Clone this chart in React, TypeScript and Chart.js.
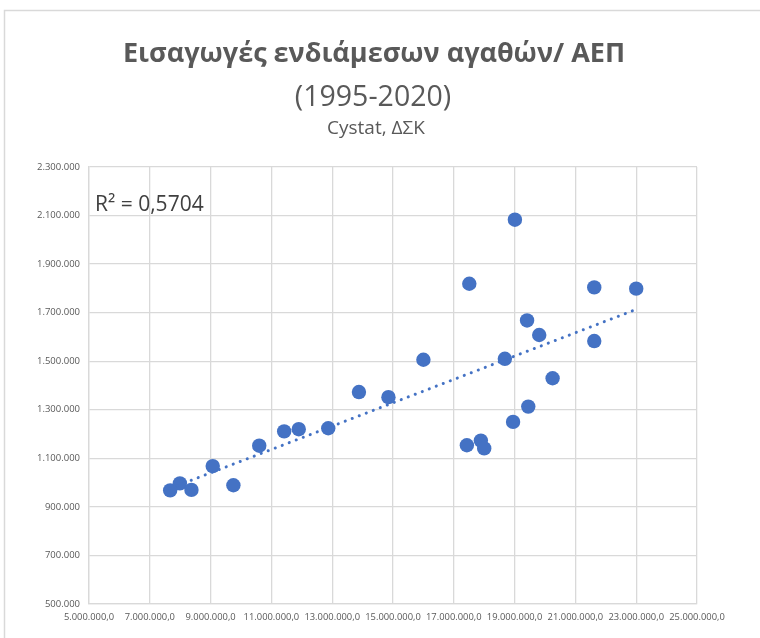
import React, { useEffect, useRef } from 'react';
import { Chart, registerables } from 'chart.js';

Chart.register(...registerables);

// ΑΕΠ (x) and Εισαγωγές ενδιάμεσων αγαθών (y), 1995-2020
const gdpValues = [
  7670000, 7990000, 8370000, 9070000, 9750000, 10600000, 11420000, 11900000, 12870000,
  13880000, 14850000, 16000000, 17430000, 17510000, 17890000, 18000000, 18680000,
  18950000, 19010000, 19410000, 19450000, 19810000, 20250000, 21620000, 21620000, 23000000,
];
const importValues = [
  968000, 997000, 970000, 1068000, 989000, 1152000, 1211000, 1220000, 1224000,
  1373000, 1352000, 1506000, 1154000, 1819000, 1173000, 1141000, 1510000,
  1250000, 2083000, 1668000, 1313000, 1608000, 1430000, 1804000, 1583000, 1799000,
];

const titleLines = ['Εισαγωγές ενδιάμεσων αγαθών/ ΑΕΠ', '(1995-2020)', 'Cystat, ΔΣΚ'];
const r2Label = 'R² = 0,5704';

const xMin = 5000000;
const xMax = 25000000;
const xStep = 2000000;
const yMin = 500000;
const yMax = 2300000;
const yStep = 200000;

const FONT = "'Open Sans', 'Noto Sans', sans-serif";

function fmtInt(v: number): string {
  return Math.round(v)
    .toString()
    .replace(/\B(?=(\d{3})+(?!\d))/g, '.');
}

function linearFit(xs: number[], ys: number[]) {
  const n = xs.length;
  const mx = xs.reduce((a, b) => a + b, 0) / n;
  const my = ys.reduce((a, b) => a + b, 0) / n;
  let sxy = 0;
  let sxx = 0;
  for (let i = 0; i < n; i++) {
    sxy += (xs[i] - mx) * (ys[i] - my);
    sxx += (xs[i] - mx) * (xs[i] - mx);
  }
  const b = sxy / sxx;
  const a = my - b * mx;
  return { a, b };
}

const decorPlugin = {
  id: 'decor',
  beforeDraw(chart: any) {
    const ctx = chart.ctx;
    ctx.save();
    ctx.fillStyle = '#ffffff';
    ctx.fillRect(0, 0, chart.width, chart.height);
    ctx.strokeStyle = '#d9d9d9';
    ctx.lineWidth = 1.5;
    ctx.beginPath();
    ctx.moveTo(4.5, chart.height);
    ctx.lineTo(4.5, 10.5);
    ctx.lineTo(chart.width, 10.5);
    ctx.stroke();
    ctx.restore();
  },
  afterDraw(chart: any) {
    const ctx = chart.ctx;
    ctx.save();
    ctx.fillStyle = '#595959';
    ctx.textAlign = 'center';
    ctx.textBaseline = 'alphabetic';
    ctx.font = `bold 27px ${FONT}`;
    ctx.fillText(titleLines[0], 374, 62);
    ctx.font = `28.5px ${FONT}`;
    ctx.fillText(titleLines[1], 373, 106);
    ctx.font = `19px ${FONT}`;
    ctx.fillText(titleLines[2], 376, 134);
    ctx.fillStyle = '#404040';
    ctx.textAlign = 'left';
    ctx.font = `21px ${FONT}`;
    ctx.fillText(r2Label, 95, 211);
    ctx.restore();
  },
};

export default function App() {
  const ref = useRef<HTMLCanvasElement | null>(null);

  useEffect(() => {
    if (!ref.current) return;
    const fit = linearFit(gdpValues, importValues);
    const lo = Math.min(...gdpValues);
    const hi = Math.max(...gdpValues);
    const points = gdpValues.map((x, i) => ({ x, y: importValues[i] }));
    const trend = [
      { x: lo, y: fit.a + fit.b * lo },
      { x: hi, y: fit.a + fit.b * hi },
    ];

    const chart = new Chart(ref.current, {
      type: 'scatter',
      data: {
        datasets: [
          {
            data: trend,
            showLine: true,
            borderColor: '#4472C4',
            backgroundColor: '#4472C4',
            borderWidth: 3,
            borderDash: [0.1, 7.4],
            borderCapStyle: 'round',
            pointRadius: 0,
            pointHoverRadius: 0,
            order: 0,
          } as any,
          {
            data: points,
            backgroundColor: '#4472C4',
            borderColor: '#4472C4',
            borderWidth: 0,
            pointRadius: 7.2,
            pointHoverRadius: 7.2,
            order: 1,
          },
        ],
      },
      options: {
        responsive: false,
        animation: false,
        devicePixelRatio: 1,
        events: [],
        layout: { padding: { top: 167, right: 63, left: 0, bottom: 0 } },
        plugins: {
          legend: { display: false },
          tooltip: { enabled: false },
          title: { display: false },
        },
        scales: {
          x: {
            type: 'linear',
            min: xMin,
            max: xMax,
            afterFit(s: any) {
              s.height = 34;
              s.paddingLeft = 0;
              s.paddingRight = 0;
            },
            ticks: {
              stepSize: xStep,
              color: '#595959',
              font: { family: FONT, size: 9.4 },
              padding: 8,
              maxRotation: 0,
              autoSkip: false,
              callback: (v: any) => fmtInt(Number(v)) + ',0',
            },
            grid: { color: '#d9d9d9', lineWidth: 1.3, drawTicks: false },
            border: { display: true, color: '#d9d9d9', width: 1.3 },
          },
          y: {
            type: 'linear',
            min: yMin,
            max: yMax,
            afterFit(s: any) {
              s.width = 89;
              s.paddingTop = 0;
              s.paddingBottom = 0;
            },
            ticks: {
              stepSize: yStep,
              color: '#595959',
              font: { family: FONT, size: 9.5 },
              padding: 9,
              autoSkip: false,
              callback: (v: any) => fmtInt(Number(v)),
            },
            grid: { color: '#d9d9d9', lineWidth: 1.3, drawTicks: false },
            border: { display: true, color: '#d9d9d9', width: 1.3 },
          },
        },
      },
      plugins: [decorPlugin],
    });
    return () => chart.destroy();
  }, []);

  return (
    <div
      style={{
        position: 'fixed',
        left: 0,
        top: 0,
        width: 760,
        height: 638,
        background: '#ffffff',
        overflow: 'hidden',
      }}
    >
      <canvas ref={ref} width={760} height={638} style={{ display: 'block' }} />
    </div>
  );
}
